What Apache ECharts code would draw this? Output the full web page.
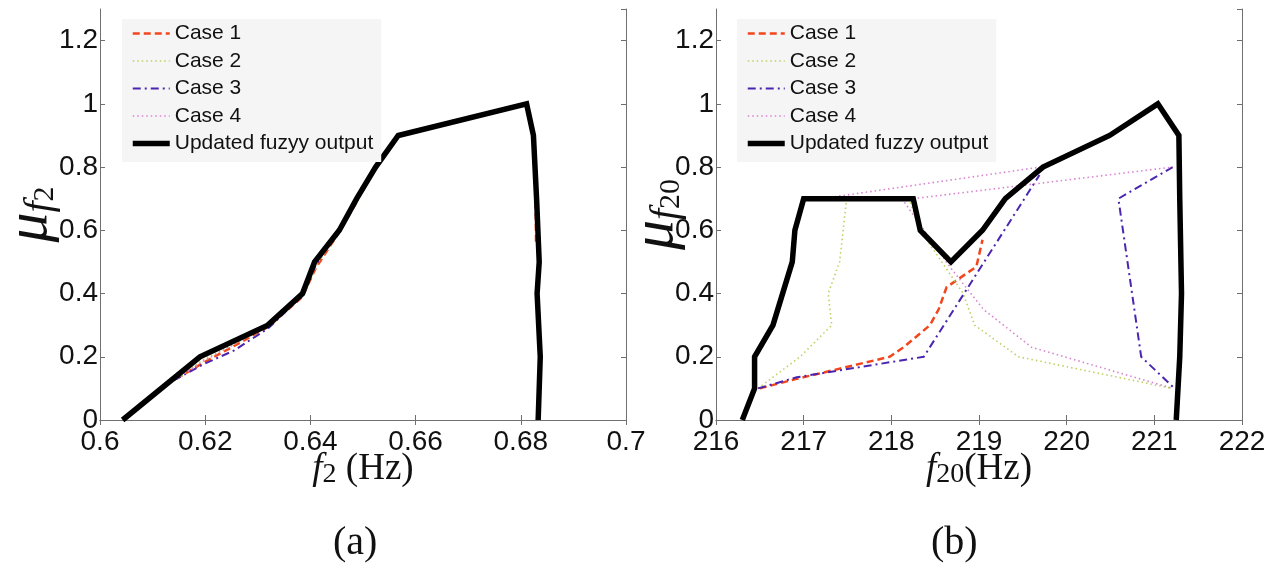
<!DOCTYPE html>
<html>
<head>
<meta charset="utf-8">
<script src="https://cdn.jsdelivr.net/npm/echarts@6/dist/echarts.min.js"></script>
<style>
  html, body { margin: 0; padding: 0; background: #fff; }
  #main { width: 1282px; height: 581px; }
</style>
</head>
<body>
<div id="main"></div>
<script>
// ---- data ----
var caseNames = ['Case 1', 'Case 2', 'Case 3', 'Case 4'];
var yTicks = [0, 0.2, 0.4, 0.6, 0.8, 1, 1.2];

// (a) f2
var fuzzyA = [[0.6043, 0], [0.619, 0.2], [0.6319, 0.3], [0.6385, 0.4], [0.6408, 0.5], [0.6455, 0.6], [0.6488, 0.7],
  [0.6524, 0.8], [0.6567, 0.9], [0.6811, 1.0], [0.6824, 0.9], [0.6830, 0.7], [0.6835, 0.5], [0.6831, 0.4],
  [0.6837, 0.2], [0.6833, 0]];
var case1A = [[0.6145, 0.13], [0.6195, 0.18], [0.6245, 0.225], [0.632, 0.295], [0.6385, 0.39], [0.641, 0.48],
  [0.6455, 0.595], [0.6488, 0.69], ['-', '-'], [0.6828, 0.69], [0.6829, 0.56]];
var case2A = [[0.6148, 0.13], [0.6195, 0.19], [0.632, 0.295], [0.6388, 0.4], [0.6415, 0.5], [0.6458, 0.6], [0.649, 0.7]];
var case3A = [[0.614, 0.125], [0.6195, 0.175], [0.6255, 0.22], [0.632, 0.29], [0.6385, 0.395], [0.641, 0.49],
  [0.649, 0.7], ['-', '-'], [0.6836, 0.26], [0.6836, 0.18]];
var case4A = [[0.6146, 0.13], [0.6195, 0.185], [0.632, 0.297], [0.6387, 0.398], ['-', '-'], [0.6836, 0.24], [0.6836, 0.16]];

// (b) f20
var fuzzyB = [[216.30, 0], [216.44, 0.1], [216.44, 0.2], [216.65, 0.3], [216.87, 0.5], [216.90, 0.6], [217.00, 0.7],
  [218.25, 0.7], [218.33, 0.6], [218.68, 0.5], [219.04, 0.6], [219.30, 0.7], [219.73, 0.8], [220.49, 0.9],
  [221.04, 1.0], [221.28, 0.9], [221.29, 0.7], [221.31, 0.4], [221.29, 0.2], [221.25, 0]];
var case1B = [[216.50, 0.1], [216.92, 0.13], [217.98, 0.2], [218.14, 0.23], [218.44, 0.3], [218.54, 0.35],
  [218.63, 0.42], [218.97, 0.485], [219.04, 0.57]];
var case2B = [[216.48, 0.1], [216.96, 0.2], [217.32, 0.3], [217.28, 0.4], [217.41, 0.5], [217.49, 0.7], [218.2, 0.7],
  [218.33, 0.6], [218.82, 0.4], [218.95, 0.3], [219.45, 0.2], [221.2, 0.1]];
var case3B = [[216.48, 0.1], [216.92, 0.135], [218.37, 0.2], [219.69, 0.775], ['-', '-'],
  [221.21, 0.8], [220.59, 0.7], [220.85, 0.2], [221.23, 0.1]];
var case4B = [[217.2, 0.7], [219.7, 0.8], ['-', '-'], [218.25, 0.7], [221.21, 0.8], ['-', '-'],
  [218.12, 0.7], [218.68, 0.48], [219.05, 0.35], [219.6, 0.23], [221.21, 0.1]];

// ---- styles ----
var caseStyles = [
  { color: '#f2461c', width: 2.5, type: [7, 4] },
  { color: '#bfd062', width: 1.6, type: [1.5, 3] },
  { color: '#4a25b0', width: 2, type: [8, 4, 2, 4] },
  { color: '#d884cf', width: 1.6, type: [1.5, 3] }
];
var axisGray = '#707070';
var sans = 'Liberation Sans';
var serif = 'Liberation Serif';

var chart = echarts.init(document.getElementById('main'));

function line(name, data, idx, st) {
  return {
    type: 'line', name: name, data: data, xAxisIndex: idx, yAxisIndex: idx,
    symbol: 'none', showSymbol: false, connectNulls: false,
    lineStyle: { color: st.color, width: st.width, type: st.type, join: 'miter' },
    itemStyle: { color: st.color }
  };
}

function xAxis(grid, min, max, interval, name, pos) {
  var main = pos === 'bottom';
  return {
    type: 'value', gridIndex: grid, position: pos, min: min, max: max, interval: interval,
    axisLine: { show: true, lineStyle: { color: axisGray, width: 1 } },
    axisTick: { show: true, inside: true, length: 5, lineStyle: { color: axisGray } },
    axisLabel: { show: main, margin: 8, fontSize: 28, fontFamily: sans, color: '#111' },
    splitLine: { show: false },
    name: main ? name : '', nameLocation: 'middle', nameGap: 31, nameMoveOverlap: false,
    nameTextStyle: {
      rich: {
        f: { fontFamily: serif, fontStyle: 'italic', fontSize: 37, color: '#111', verticalAlign: 'top', lineHeight: 38 },
        n: { fontFamily: serif, fontSize: 28, color: '#111', verticalAlign: 'bottom', lineHeight: 28, padding: [16, 0, 0, 0] },
        hz: { fontFamily: serif, fontSize: 37, color: '#111', verticalAlign: 'top', lineHeight: 38 }
      }
    }
  };
}

function yAxis(grid, name, pos, gap) {
  var main = pos === 'left';
  return {
    type: 'value', gridIndex: grid, position: pos, min: 0, max: 1.3, interval: 0.2,
    axisLine: { show: true, lineStyle: { color: axisGray, width: 1 } },
    axisTick: { show: true, inside: true, length: 5, lineStyle: { color: axisGray } },
    axisLabel: {
      show: main, margin: 2, fontSize: 28, fontFamily: sans, color: '#111', showMaxLabel: false,
      formatter: function (v) { return yTicks.indexOf(Math.round(v * 10) / 10) >= 0 ? String(Math.round(v * 10) / 10) : ''; }
    },
    splitLine: { show: false },
    name: main ? name : '', nameLocation: 'middle', nameGap: gap, nameRotate: 90, nameMoveOverlap: false,
    nameTextStyle: {
      rich: {
        mu: { fontFamily: serif, fontStyle: 'italic', fontSize: 60, color: '#111', verticalAlign: 'top', lineHeight: 60 },
        f: { fontFamily: serif, fontStyle: 'italic', fontSize: 40, color: '#111', verticalAlign: 'bottom', lineHeight: 40, padding: [26, 0, 0, 0] },
        n: { fontFamily: serif, fontSize: 30, color: '#111', verticalAlign: 'bottom', lineHeight: 30, padding: [42, 0, 0, 0] }
      }
    }
  };
}

function legend(left, lastName) {
  return {
    orient: 'vertical', left: left, top: 19, padding: [4, 8, 8, 8],
    backgroundColor: '#f5f5f5', selectedMode: false,
    itemWidth: 37, itemHeight: 14, itemGap: 6.5,
    textStyle: { fontFamily: sans, fontSize: 21, lineHeight: 21, color: '#111' },
    lineStyle: { width: 'inherit' },
    itemStyle: { color: 'transparent', borderWidth: 0, opacity: 0 },
    data: caseNames.concat([lastName])
  };
}

var casesA = [case1A, case2A, case3A, case4A];
var casesB = [case1B, case2B, case3B, case4B];
var series = [];
caseNames.forEach(function (n, i) { series.push(line(n, casesA[i], 0, caseStyles[i])); });
series.push(line('Updated fuzyy output', fuzzyA, 0, { color: '#000', width: 5.5, type: 'solid' }));
caseNames.forEach(function (n, i) {
  var s = line(n, casesB[i], 0, caseStyles[i]);
  s.xAxisIndex = 2; s.yAxisIndex = 2;
  series.push(s);
});
var lastB = line('Updated fuzzy output', fuzzyB, 0, { color: '#000', width: 5.5, type: 'solid' });
lastB.xAxisIndex = 2; lastB.yAxisIndex = 2;
series.push(lastB);

chart.setOption({
  animation: false,
  backgroundColor: '#fff',
  grid: [
    { left: 100, right: 656, top: 9, bottom: 161, outerBoundsMode: 'none' },
    { left: 716, right: 40, top: 9, bottom: 161, outerBoundsMode: 'none' }
  ],
  xAxis: [
    xAxis(0, 0.6, 0.7, 0.02, '{f|f}{n|2}{hz| (Hz)}', 'bottom'),
    xAxis(0, 0.6, 0.7, 0.02, '', 'top'),
    xAxis(1, 216, 222, 1, '{f|f}{n|20}{hz|(Hz)}', 'bottom'),
    xAxis(1, 216, 222, 1, '', 'top')
  ],
  yAxis: [
    yAxis(0, '{mu|μ}{f|f}{n|2}', 'left', 40),
    yAxis(0, '', 'right', 40),
    yAxis(1, '{mu|μ}{f|f}{n|20}', 'left', 30),
    yAxis(1, '', 'right', 30)
  ],
  legend: [legend(122, 'Updated fuzyy output'), legend(737, 'Updated fuzzy output')],
  graphic: [
    { type: 'text', left: 333, top: 523, style: { text: '(a)', font: '40px "Liberation Serif"', fill: '#111' } },
    { type: 'text', left: 931, top: 523, style: { text: '(b)', font: '40px "Liberation Serif"', fill: '#111' } }
  ],
  series: series
});
</script>
</body>
</html>
